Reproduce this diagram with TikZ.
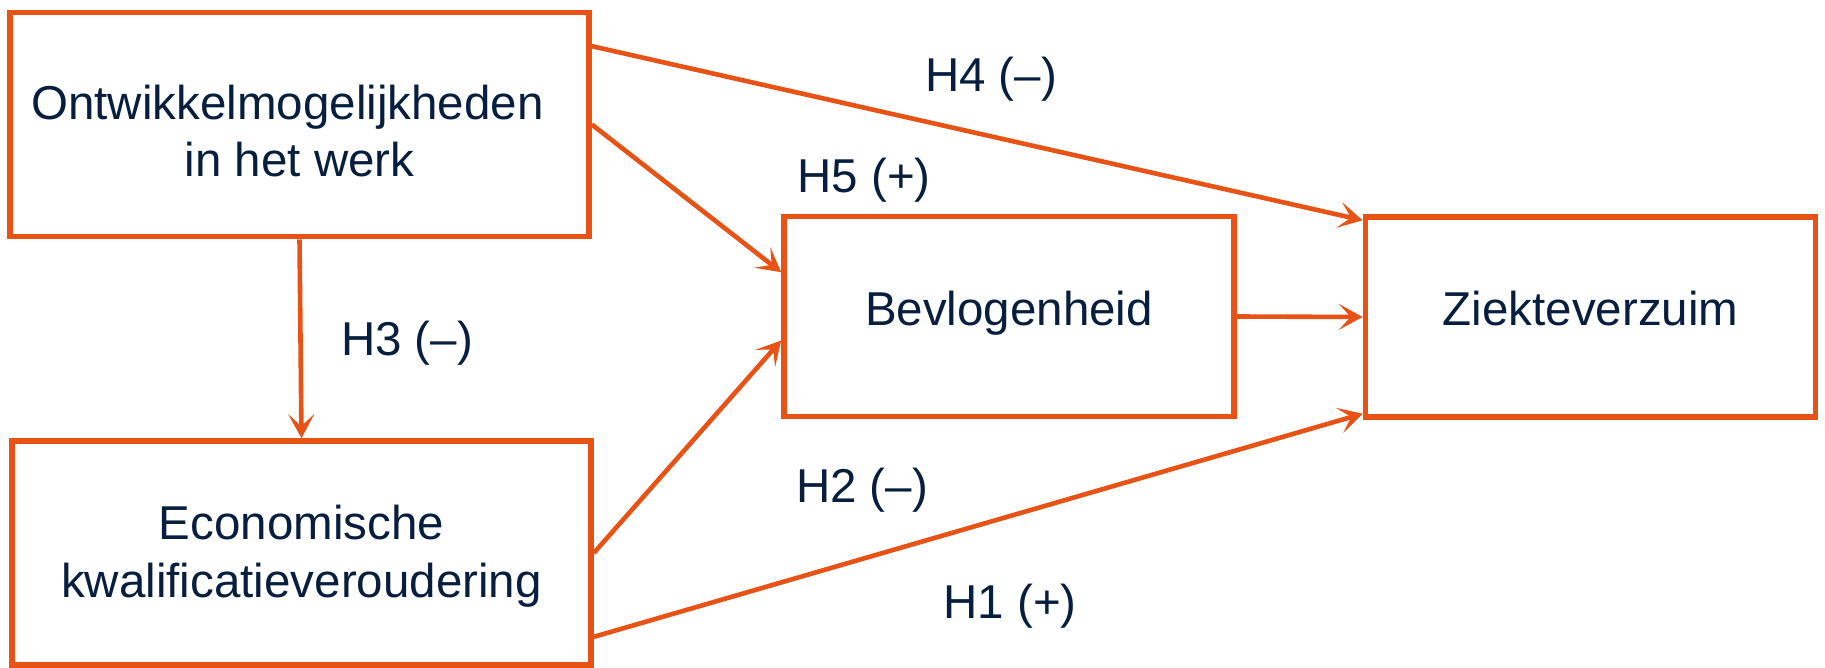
\documentclass[tikz,border=0pt]{standalone}
\usepackage{fontspec}
\setmainfont{Liberation Sans}
\usepackage{xcolor}
\usepackage{tikz}
\usetikzlibrary{shapes,positioning,arrows.meta}
\definecolor{oranje}{RGB}{232,82,20}
\definecolor{navy}{RGB}{8,30,62}
\tikzset{blok/.style={rectangle,draw=oranje,line width=2.8pt,text=navy,align=center,inner sep=0pt,
    font=\fontsize{23.75}{28.8}\selectfont},
  groot/.style={blok,minimum width=289.5pt,minimum height=112pt},
  klein/.style={blok,minimum width=225pt,minimum height=100pt,text height=1.05em,text depth=0.2em},
  hyp/.style={anchor=base,text=navy,inner sep=0pt,font=\fontsize{23.75}{28.8}\selectfont}}

\begin{document}
\begin{tikzpicture}[x=0.5pt,y=-0.5pt,>={Stealth[length=12pt,width=13pt,inset=6pt]}]
    \useasboundingbox (0,0) rectangle (1825,668);
    \node[groot] (ow) at (299.5,124.5) {\rule{0pt}{1em}Ontwikkelmogelijkheden\hspace*{12pt}\\in het werk};
    \node[groot] (ek) at (301.5,553) {\rule{0pt}{0.86em}Economische\\kwalificatieveroudering};
    \node[klein] (bv) at (1009,316.5) {Bevlogenheid};
    \node[klein] (zv) at (1590.5,317) {Ziekteverzuim};

    \node[hyp] (h4) at (991,92) {H4 (\textendash)};
    \node[hyp] (h5) at (864,193) {H5 (+)};
    \node[hyp] (h3) at (407,355) {H3 (\textendash)};
    \node[hyp] (h2) at (862,502) {H2 (\textendash)};
    \node[hyp] (h1) at (1010,618) {H1 (+)};

    \draw [->,oranje,line width=2.3pt] (ow.15.7) to (zv.157);
    \draw [->,oranje,line width=2.3pt] (ow.east) to (bv.169);
    \draw [->,oranje,line width=2.3pt] (ow.south) to (ek.north);
    \draw [->,oranje,line width=2.3pt] (ek.east) to (bv.186.7);
    \draw [->,oranje,line width=2.3pt] (ek.-16.5) to (zv.203.5);
    \draw [->,oranje,line width=2.3pt] (bv.east) to (zv.west);
\end{tikzpicture}
\end{document}
